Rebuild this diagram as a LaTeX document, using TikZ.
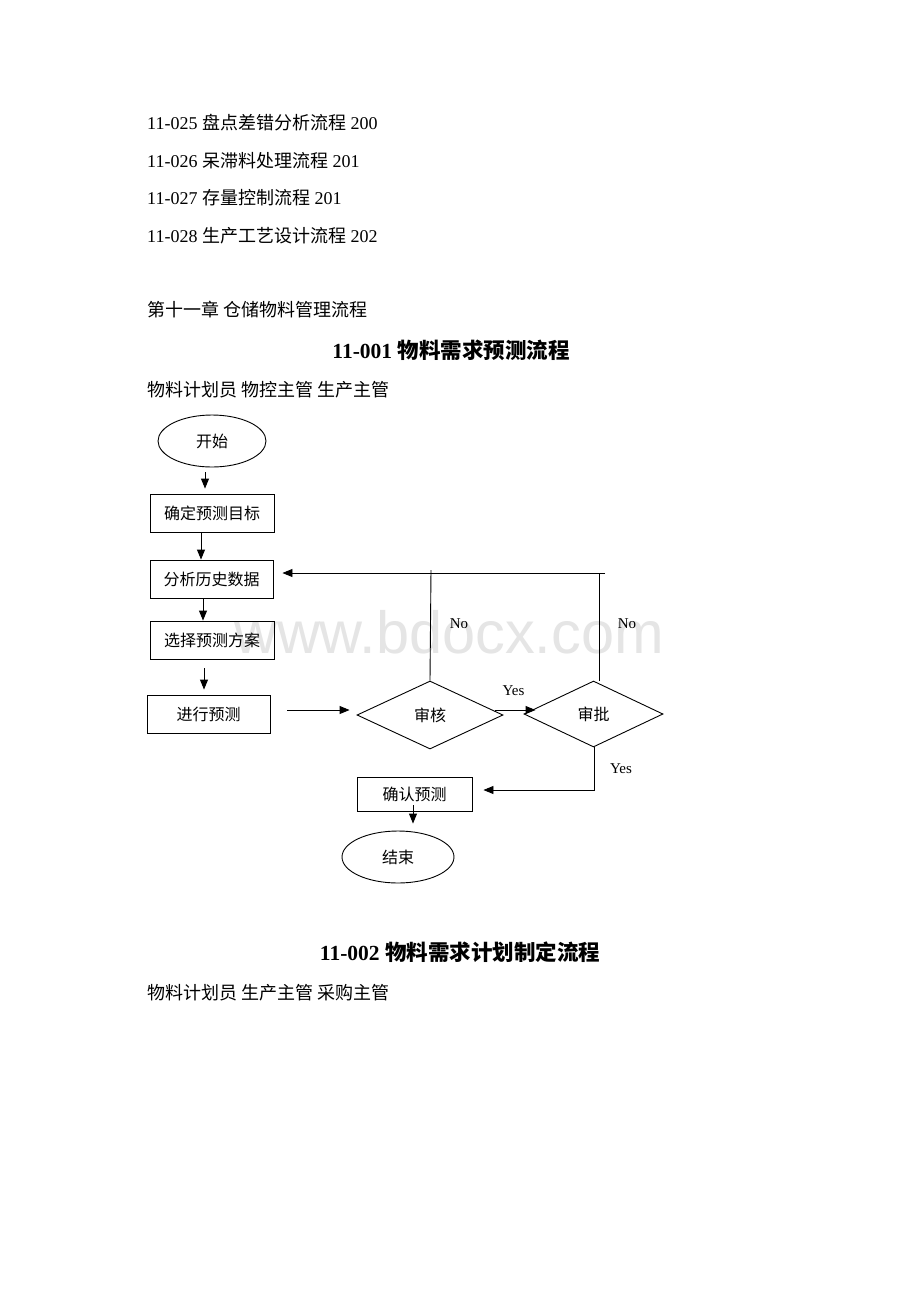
\documentclass[tikz,border=0pt]{standalone}
\usepackage{fontspec}
\setmainfont{Liberation Serif}
\newfontfamily\cjk{Noto Sans CJK SC}
\newfontfamily\wmfont{Liberation Sans}
\usetikzlibrary{shapes.geometric,arrows.meta}
\tikzset{
  line/.style={line width=0.9pt, black},
  arr/.style={line, -{Triangle[length=10pt,width=8pt]}},
  procbox/.style={draw, line width=0.9pt, rectangle, inner sep=0pt, minimum width=124pt, minimum height=38pt, font=\fontsize{16}{18}\selectfont\cjk},
  term/.style={draw, line width=0.9pt, ellipse, inner sep=0pt, minimum width=108pt, minimum height=52pt, font=\fontsize{16}{18}\selectfont\cjk},
  decide/.style={draw, line width=0.9pt, diamond, inner sep=0pt, minimum width=146pt, minimum height=68pt, font=\fontsize{16}{18}\selectfont\cjk},
  lbl/.style={inner sep=0pt, font=\fontsize{15}{17}\selectfont},
  bodytext/.style={anchor=west, inner sep=0pt, font=\fontsize{18}{21}\selectfont},
  titletext/.style={inner sep=0pt, font=\fontsize{21.5}{24}\selectfont\bfseries},
}
\begin{document}
\begin{tikzpicture}[x=1pt,y=-1pt]
\fill[white] (0,0) rectangle (920,1302);
\useasboundingbox (0,0) rectangle (920,1302);
% watermark
\node[inner sep=0pt, text=black!10, font=\fontsize{59.5}{60}\selectfont\wmfont] (wm) at (449,632) {www.bdocx.com};
% text lines
\node[bodytext] (t1) at (147,123) {11-025 {\cjk 盘点差错分析流程} 200};
\node[bodytext] (t2) at (147,161) {11-026 {\cjk 呆滞料处理流程} 201};
\node[bodytext] (t3) at (147,198) {11-027 {\cjk 存量控制流程} 201};
\node[bodytext] (t4) at (147,236) {11-028 {\cjk 生产工艺设计流程} 202};
\node[bodytext] (ch) at (147,310) {\cjk 第十一章 仓储物料管理流程};
\node[titletext] (h1) at (451,350) {11-001 {\cjk\bfseries 物料需求预测流程}};
\node[bodytext] (r1) at (147,390) {\cjk 物料计划员 物控主管 生产主管};
\node[titletext] (h2) at (460,952) {11-002 {\cjk\bfseries 物料需求计划制定流程}};
\node[bodytext] (r2) at (147,993) {\cjk 物料计划员 生产主管 采购主管};
% flowchart
\node[term] (start) at (212,441) {开始};
\node[procbox] (b1) at (212,513) {确定预测目标};
\node[procbox, minimum width=123pt] (b2) at (211.5,579) {分析历史数据};
\node[procbox] (b3) at (212,640) {选择预测方案};
\node[procbox, minimum width=123pt] (b4) at (208.5,714) {进行预测};
\node[decide] (sh) at (430,715) {审核};
\node[decide, minimum width=139pt, minimum height=66pt] (sp) at (593.5,714) {审批};
\node[procbox, minimum width=115pt, minimum height=34pt] (cf) at (414.5,794) {确认预测};
\node[term, minimum width=112pt] (end) at (398,857) {结束};
% connectors
\draw[arr, shorten <=5pt, shorten >=5pt] (start.south -| 205,0) -- (b1.north -| 205,0);
\draw[arr] (b1.south -| 201,0) -- (b2.north -| 201,0);
\draw[arr] (b2.south -| 203,0) -- (b3.north -| 203,0);
\draw[arr, shorten <=9pt, shorten >=5pt] (b3.south -| 204,0) -- (b4.north -| 204,0);
\draw[arr, shorten <=17pt, shorten >=7pt] (b4.east |- 0,710) -- (sh.west |- 0,710);
\draw[arr, shorten <=-8pt, shorten >=-12pt] (sh.east |- 0,710) -- node[lbl, above=14pt] (ly1) {Yes} (sp.west |- 0,710);
\coordinate (fb1) at (431,570);
\coordinate (fb2) at (599,573);
\coordinate (fbr) at (605,573);
\draw[line] (sh.north) -- (fb1);
\draw[line] (sp.north -| 599,0) -- (fb2);
\draw[arr, shorten >=9pt] (fbr) -- (b2.east |- fbr);
\node[lbl] (ln1) at (459,624) {No};
\node[lbl] (ln2) at (627,624) {No};
\draw[arr, shorten >=11pt] (sp.south -| 594,0) |- (cf.east |- 0,790);
\node[lbl] (ly2) at (621,769) {Yes};
\draw[arr, shorten <=-6pt, shorten >=7pt] (cf.south -| 413,0) -- (end.north -| 413,0);
\end{tikzpicture}
\end{document}
